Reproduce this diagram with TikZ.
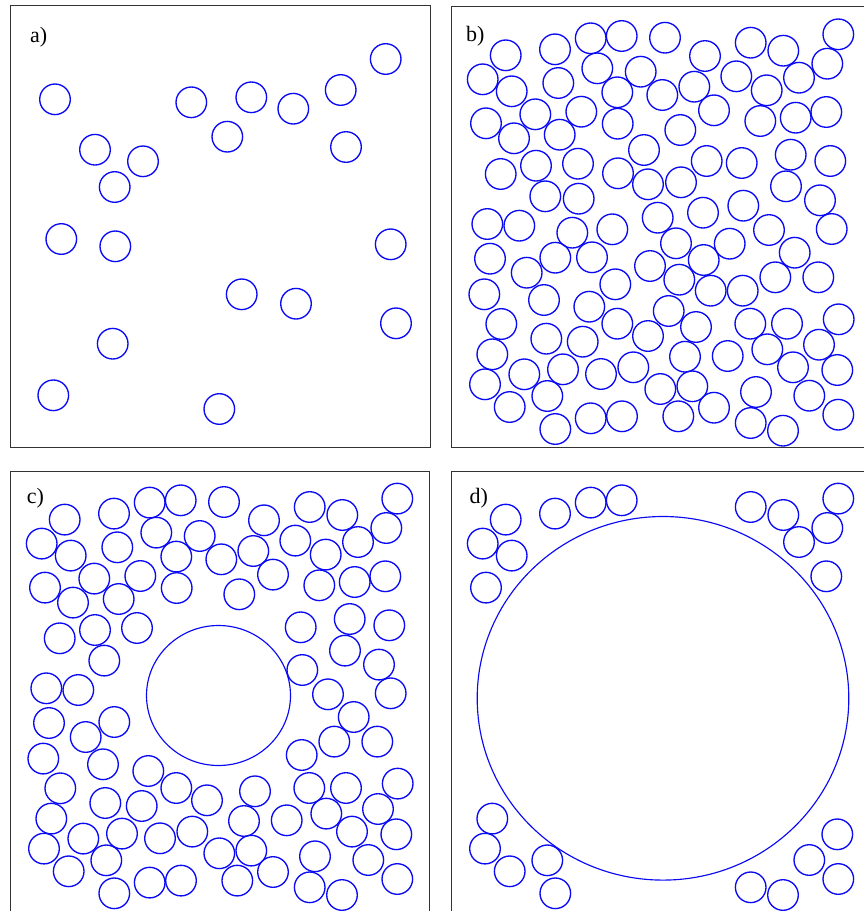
\documentclass[tikz,border=0pt]{standalone}
\usepackage{fontspec}
\setmainfont{Liberation Serif}
\def\Lone{505.7/55.3, 555/49.3, 590.7/38.3, 621.7/36, 482.7/79.3, 511.7/91.3, 486/123.3, 750.7/42.7, 783.3/50.7, 838.3/34.3, 827.3/63.7, 799/77.7, 826.3/112, 492.3/354.3, 485/384.3, 509.7/407, 547.3/396, 555.3/429, 750.7/423, 783/430.7, 809.3/395.7, 837.3/370, 838.3/414.7}
\def\Ltwo{665/37.7, 705/56, 558.3/83, 597.3/68.3, 640.7/71.7, 617.3/92.3, 662.3/95, 694.3/86.7, 736.3/76.3, 766.7/90.3, 535.3/114.3, 581.3/111.7, 514/138.3, 559.7/134.7, 617.7/123.7, 714/110.3, 760.3/121, 795.7/117.7, 680.3/130, 500.7/174, 536/165.7, 578/163.7, 741.7/163, 790.7/154.7, 830.3/161, 545.3/196.3, 786/186.3, 820/200.3, 743.3/205.7, 487.3/224, 519.3/225.7, 769/230, 831.7/229, 490/258.7, 555.3/257.7, 526.7/272.7, 794.7/252.7, 742.7/290.7, 775.3/277.3, 818.3/277.3, 484.3/294.3, 544/300, 589.3/306.7, 501.3/324, 617.3/323.7, 648/336, 696/327, 750.3/323.7, 787/323.7, 838.7/319.3, 546.3/338.7, 582.7/341.7, 685/356.7, 727.7/356, 767.3/349.3, 819/344.7, 524.3/374.3, 563/369.3, 601/374, 633.3/367.3, 793/367.3, 660.3/389, 692.3/386.3, 756/392, 678.3/416.3, 714/407.7, 590.7/418.3, 622/416.3}
\def\Lthree{657.7/217.7, 703/212.7, 676/243.3, 729.7/243.7, 612.3/229.3, 572.3/232.7, 650/266, 703.7/260, 679.3/279.7, 615.3/284.3, 710.7/290.7, 668.7/311, 592/257.3, 578.7/198.7, 648/184.3, 681/182.3, 618/173.3, 706.7/161, 644/150}
\def\Lsparse{55/99.3, 191.3/102.3, 251.3/97.3, 293.3/108.7, 340.7/90, 385.7/59, 227.3/136.7, 346/147, 95/149.7, 143/161.3, 114.7/187, 61.3/239, 115.3/246.3, 390.7/244.3, 241.7/294.3, 296/303.7, 396/323.3, 112.7/343.7, 53.3/395.3, 219.3/409}
\begin{document}
\begin{tikzpicture}[x=1pt,y=-1pt,
  ball/.style={draw={rgb,255:red,10;green,10;blue,245}, line width=1.35pt},
  bigball/.style={draw={rgb,255:red,10;green,10;blue,245}, line width=1.15pt},
  frame/.style={draw=black!80, line width=1pt},
  lab/.style={font=\fontsize{22}{24}\selectfont, inner sep=0pt, anchor=base west}]
\useasboundingbox (0,0) rectangle (863,911);
% frames
\draw[frame] (10,5) rectangle (430,447.7);
\draw[frame] (451.7,6.7) rectangle (880,447.7);
\draw[frame] (10.7,471) rectangle (429.3,925);
\draw[frame] (451.7,471) rectangle (880,925);
% labels
\node[lab] (la) at (30,42.7) {a)};
\node[lab] (lb) at (466,41.7) {b)};
\node[lab] (lc) at (26.7,503.3) {c)};
\node[lab] (ld) at (469.3,503.3) {d)};
% panel a
\foreach \x/\y in \Lsparse {\draw[ball] (\x,\y) circle[radius=15.3pt];}
% panel b
\foreach \x/\y in \Lone {\draw[ball] (\x,\y) circle[radius=15.3pt];}
\foreach \x/\y in \Ltwo {\draw[ball] (\x,\y) circle[radius=15.3pt];}
\foreach \x/\y in \Lthree {\draw[ball] (\x,\y) circle[radius=15.3pt];}
% panel c
\begin{scope}[shift={(-441,464.3)}]
\foreach \x/\y in \Lone {\draw[ball] (\x,\y) circle[radius=15.3pt];}
\foreach \x/\y in \Ltwo {\draw[ball] (\x,\y) circle[radius=15.3pt];}
\end{scope}
\draw[bigball] (218.5,695.5) ellipse[x radius=72pt, y radius=70pt];
% panel d
\begin{scope}[shift={(0,464.3)}]
\foreach \x/\y in \Lone {\draw[ball] (\x,\y) circle[radius=15.3pt];}
\end{scope}
\draw[bigball] (663,698.3) ellipse[x radius=185.8pt, y radius=181.8pt];
\end{tikzpicture}
\end{document}
